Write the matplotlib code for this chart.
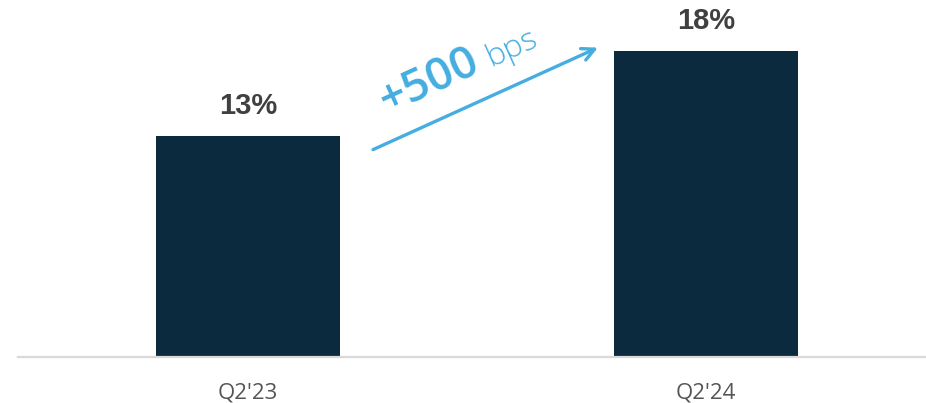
import matplotlib
matplotlib.use("Agg")
import matplotlib.pyplot as plt

# data
quarters = ["Q2'23", "Q2'24"]
margin = [13, 18]
labels = ["13%", "18%"]
change_text = "+500"
change_unit = "bps"

bar_color = "#0c2a3d"
accent = "#45ade0"

fig = plt.figure(figsize=(9.26, 4.03), dpi=100)
ax = fig.add_axes([0.0194, 0.114, 0.9806, 0.886])

x = list(range(len(quarters)))
ax.bar(x, margin, width=0.40, color=bar_color, zorder=2)

for xi, v, lab in zip(x, margin, labels):
    ax.text(xi, v + 1.75, lab, ha="center", va="center", fontsize=21,
            fontweight="bold", color="#404040", family="Liberation Sans")

ax.set_xlim(-0.502, 1.48)
ax.set_ylim(0, 21)
ax.set_xticks(x)
ax.set_xticklabels(quarters, fontsize=16, color="#555555", family="Open Sans")
ax.tick_params(axis="x", length=0, pad=18)
ax.set_yticks([])
for s in ["top", "right", "left"]:
    ax.spines[s].set_visible(False)
ax.spines["bottom"].set_color("#d9d9d9")
ax.spines["bottom"].set_linewidth(1.6)

# growth arrow
ax.annotate("", xy=(0.764, 18.2), xytext=(0.273, 12.2),
            arrowprops=dict(arrowstyle="->,head_length=0.9,head_width=0.45",
                            color=accent, lw=2.4, shrinkA=0, shrinkB=0))
ax.text(0.303, 14.3, change_text, rotation=24.5, rotation_mode="anchor",
        ha="left", va="baseline", fontsize=33, color=accent,
        family="Open Sans", fontweight="semibold")
ax.annotate(change_unit, xy=(0.303, 14.3), xytext=(75, 34),
            textcoords="offset points", rotation=24.5, rotation_mode="anchor",
            ha="left", va="baseline", fontsize=23, color=accent,
            family="Open Sans", fontweight="light")

plt.savefig("out.png", dpi=100)
